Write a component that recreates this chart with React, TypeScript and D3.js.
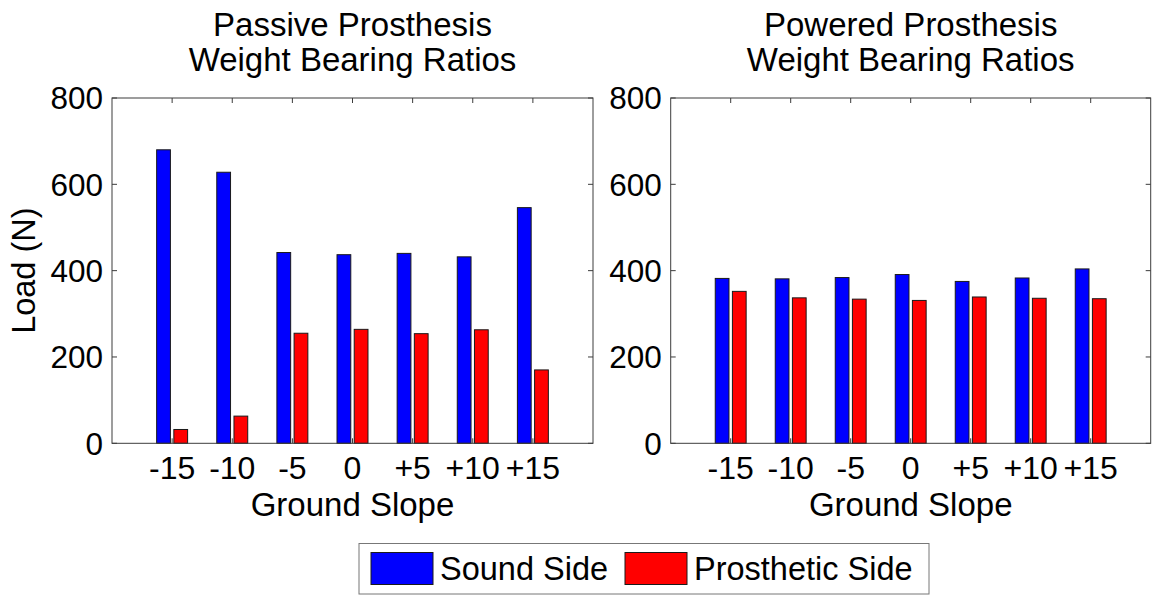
import React from "react";
import * as d3 from "d3";

const slopeLabels = ["-15", "-10", "-5", "0", "+5", "+10", "+15"];
const passiveSound = [680, 628, 442, 437, 440, 432, 546];
const passiveProsthetic = [32, 63, 255, 264, 254, 263, 170];
const poweredSound = [382, 381, 384, 391, 375, 383, 404];
const poweredProsthetic = [352, 337, 334, 331, 339, 336, 335];
const loadTicks = [0, 200, 400, 600, 800];
const seriesNames = ["Sound Side", "Prosthetic Side"];
const seriesColors = ["#0000ff", "#ff0000"];

const W = 1152;
const H = 596;
const FONT = "'Liberation Sans', Arial, sans-serif";
const TOP = 98;
const BOTTOM = 443.3;
const AXIS = "#3c3c3c";

type PanelProps = {
  left: number;
  right: number;
  titleLines: string[];
  sound: number[];
  prosthetic: number[];
  showYLabel: boolean;
};

function Panel({ left, right, titleLines, sound, prosthetic, showYLabel }: PanelProps) {
  const x = d3.scaleLinear().domain([0, slopeLabels.length + 1]).range([left, right]);
  const y = d3.scaleLinear().domain([0, 800]).range([BOTTOM, TOP]);
  const unit = x(1) - x(0);
  const barW = 0.229 * unit;
  const offset = 0.143 * unit;
  const tickLen = 5;
  const cx = (left + right) / 2;
  const series = [sound, prosthetic];

  return (
    <g>
      {titleLines.map((t, i) => (
        <text key={t} x={cx} y={36 + i * 35} textAnchor="middle" fontSize={33} fontFamily={FONT} fill="#000">
          {t}
        </text>
      ))}
      {series.map((vals, s) =>
        vals.map((v, i) => {
          const c = x(i + 1) + (s === 0 ? -offset : offset);
          return (
            <rect
              key={`${s}-${i}`}
              x={c - barW / 2}
              y={y(v)}
              width={barW}
              height={y(0) - y(v)}
              fill={seriesColors[s]}
              stroke="#1a1a1a"
              strokeWidth={1}
            />
          );
        })
      )}
      {/* inward ticks on all four sides */}
      {slopeLabels.map((lab, i) => (
        <g key={lab}>
          <line x1={x(i + 1)} x2={x(i + 1)} y1={BOTTOM} y2={BOTTOM - tickLen} stroke={AXIS} />
          <line x1={x(i + 1)} x2={x(i + 1)} y1={TOP} y2={TOP + tickLen} stroke={AXIS} />
          <text x={x(i + 1)} y={479} textAnchor="middle" fontSize={32} fontFamily={FONT} fill="#000">
            {lab}
          </text>
        </g>
      ))}
      {loadTicks.map((t) => (
        <g key={t}>
          <line x1={left} x2={left + tickLen} y1={y(t)} y2={y(t)} stroke={AXIS} />
          <line x1={right} x2={right - tickLen} y1={y(t)} y2={y(t)} stroke={AXIS} />
          <text x={left - 9} y={y(t)} dy="0.36em" textAnchor="end" fontSize={31.5} fontFamily={FONT} fill="#000">
            {t}
          </text>
        </g>
      ))}
      <rect x={left} y={TOP} width={right - left} height={BOTTOM - TOP} fill="none" stroke={AXIS} strokeWidth={1} />
      <text x={cx} y={516} textAnchor="middle" fontSize={33} fontFamily={FONT} fill="#000">
        Ground Slope
      </text>
      {showYLabel && (
        <text
          transform={`translate(35,${(TOP + BOTTOM) / 2}) rotate(-90)`}
          textAnchor="middle"
          fontSize={32.5}
          fontFamily={FONT}
          fill="#000"
        >
          Load (N)
        </text>
      )}
    </g>
  );
}

function Legend() {
  const swatchX = [371, 625];
  const textX = [440, 694];
  return (
    <g>
      <rect x={359} y={543.5} width={570} height={50.5} fill="#fff" stroke="#777" strokeWidth={1} />
      {seriesNames.map((name, i) => (
        <g key={name}>
          <rect x={swatchX[i]} y={552.5} width={62} height={32} fill={seriesColors[i]} stroke="#1a1a1a" strokeWidth={1} />
          <text x={textX[i]} y={580} fontSize={32.5} fontFamily={FONT} fill="#000">
            {name}
          </text>
        </g>
      ))}
    </g>
  );
}

export default function App() {
  return (
    <svg
      width={W}
      height={H}
      viewBox={`0 0 ${W} ${H}`}
      style={{ position: "absolute", left: 0, top: 0, background: "#fff" }}
    >
      <rect width={W} height={H} fill="#fff" />
      <Panel
        left={112}
        right={593}
        titleLines={["Passive Prosthesis", "Weight Bearing Ratios"]}
        sound={passiveSound}
        prosthetic={passiveProsthetic}
        showYLabel
      />
      <Panel
        left={670.7}
        right={1150.7}
        titleLines={["Powered Prosthesis", "Weight Bearing Ratios"]}
        sound={poweredSound}
        prosthetic={poweredProsthetic}
        showYLabel={false}
      />
      <Legend />
    </svg>
  );
}
